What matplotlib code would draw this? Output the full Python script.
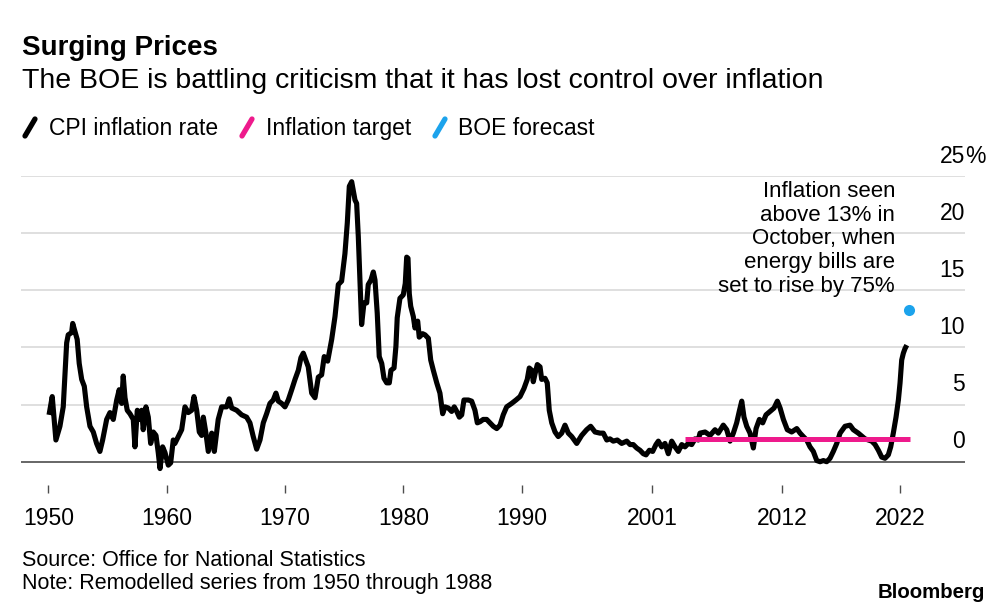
import matplotlib.pyplot as plt
from matplotlib.lines import Line2D

plt.rcParams['font.family'] = ['Liberation Sans', 'DejaVu Sans']

# --- Data ---
# CPI inflation rate (%), remodelled series before 1988
cpi_years = [
    1950.05, 1950.32, 1950.63, 1950.97, 1951.25, 1951.54, 1951.67, 1951.96, 1952.05, 1952.24,
    1952.43, 1952.6, 1952.81, 1953.03, 1953.23, 1953.51, 1953.79, 1954.07, 1954.35, 1954.58,
    1954.92, 1955.2, 1955.48, 1955.77, 1955.98, 1956.19, 1956.32, 1956.47, 1956.66, 1956.89,
    1957.17, 1957.31, 1957.51, 1957.73, 1957.88, 1958.01, 1958.24, 1958.44, 1958.64, 1958.86,
    1959.09, 1959.28, 1959.43, 1959.65, 1959.85, 1960.13, 1960.33, 1960.55, 1960.69, 1960.97,
    1961.26, 1961.54, 1961.82, 1962.1, 1962.3, 1962.53, 1962.75, 1962.95, 1963.09, 1963.31,
    1963.51, 1963.8, 1964.02, 1964.35, 1964.64, 1965.06, 1965.28, 1965.49, 1965.91, 1966.33,
    1966.75, 1967.03, 1967.31, 1967.6, 1967.88, 1968.16, 1968.44, 1968.72, 1969.0, 1969.23,
    1969.43, 1969.71, 1969.99, 1970.27, 1970.56, 1970.84, 1971.12, 1971.34, 1971.54, 1971.96,
    1972.25, 1972.53, 1972.81, 1973.09, 1973.31, 1973.6, 1973.94, 1974.22, 1974.5, 1974.78,
    1975.06, 1975.26, 1975.43, 1975.63, 1975.91, 1976.05, 1976.19, 1976.33, 1976.47, 1976.67,
    1976.9, 1977.03, 1977.26, 1977.46, 1977.6, 1977.79, 1977.96, 1978.17, 1978.36, 1978.59,
    1978.81, 1978.95, 1979.21, 1979.37, 1979.48, 1979.71, 1979.99, 1980.16, 1980.28, 1980.39,
    1980.5, 1980.62, 1980.84, 1980.98, 1981.21, 1981.34, 1981.63, 1981.83, 1982.11, 1982.31,
    1982.53, 1982.82, 1983.09, 1983.32, 1983.52, 1983.8, 1984.08, 1984.3, 1984.51, 1984.73,
    1984.93, 1985.12, 1985.49, 1985.77, 1986.05, 1986.25, 1986.48, 1986.75, 1987.04, 1987.32,
    1987.6, 1987.89, 1988.17, 1988.44, 1988.73, 1989.15, 1989.52, 1989.86, 1990.19, 1990.47,
    1990.64, 1990.85, 1990.98, 1991.13, 1991.32, 1991.55, 1991.69, 1991.97, 1992.16, 1992.33,
    1992.54, 1992.82, 1993.09, 1993.38, 1993.66, 1993.94, 1994.23, 1994.65, 1995.07, 1995.49,
    1995.83, 1996.2, 1996.62, 1996.9, 1997.19, 1997.46, 1997.74, 1998.08, 1998.45, 1998.88,
    1999.16, 1999.43, 1999.72, 2000.0, 2000.28, 2000.51, 2000.79, 2001.07, 2001.35, 2001.55,
    2001.83, 2002.11, 2002.39, 2002.68, 2002.96, 2003.24, 2003.53, 2003.8, 2004.08, 2004.37,
    2004.65, 2004.93, 2005.07, 2005.5, 2005.92, 2006.34, 2006.62, 2007.04, 2007.33, 2007.61,
    2007.89, 2008.17, 2008.39, 2008.6, 2008.79, 2009.02, 2009.3, 2009.58, 2009.81, 2010.09,
    2010.37, 2010.65, 2010.99, 2011.33, 2011.61, 2011.84, 2012.12, 2012.45, 2012.82, 2013.25,
    2013.53, 2013.8, 2014.09, 2014.37, 2014.65, 2014.94, 2015.22, 2015.5, 2015.78, 2016.06,
    2016.34, 2016.63, 2016.91, 2017.33, 2017.75, 2018.03, 2018.45, 2019.02, 2019.3, 2019.59,
    2019.87, 2020.15, 2020.43, 2020.71, 2020.99, 2021.19, 2021.41, 2021.64, 2021.84, 2021.98,
    2022.12, 2022.26, 2022.4, 2022.55,
]
cpi_rates = [
    4.1, 5.7, 1.9, 3.1, 4.8, 10.4, 11.1, 11.3, 12.1, 11.4,
    10.7, 8.6, 7.2, 6.6, 4.8, 3.1, 2.6, 1.6, 0.9, 1.9,
    3.7, 4.3, 3.7, 5.4, 6.3, 5.1, 7.5, 5.6, 4.5, 4.2,
    3.7, 1.3, 4.5, 3.7, 4.5, 2.8, 4.8, 3.9, 1.6, 2.6,
    2.3, 0.8, -0.6, 1.3, 0.8, -0.3, -0.1, 1.9, 1.6, 2.2,
    2.8, 4.8, 4.3, 4.5, 5.7, 4.5, 2.6, 2.3, 3.9, 2.5,
    0.9, 2.5, 0.9, 3.7, 4.8, 4.8, 5.5, 4.7, 4.5, 4.1,
    3.9, 3.4, 2.2, 1.1, 1.9, 3.4, 4.2, 5.1, 5.4, 6.0,
    5.3, 5.1, 4.8, 5.4, 6.3, 7.2, 8.0, 9.1, 9.5, 8.3,
    6.0, 5.6, 7.4, 7.6, 9.2, 8.8, 10.7, 12.7, 15.5, 15.8,
    18.2, 20.9, 24.1, 24.5, 22.9, 22.6, 19.7, 15.9, 12.0, 13.9,
    13.9, 15.5, 15.9, 16.6, 15.9, 13.0, 9.2, 8.6, 7.3, 6.9,
    6.9, 8.0, 8.2, 10.1, 12.6, 14.3, 14.6, 15.6, 17.9, 17.8,
    14.7, 13.6, 12.7, 11.7, 12.3, 10.9, 11.2, 11.1, 10.8, 8.9,
    8.0, 6.9, 6.0, 4.2, 4.8, 4.7, 4.4, 4.8, 4.4, 3.9,
    4.1, 5.4, 5.4, 5.3, 4.5, 3.4, 3.5, 3.7, 3.7, 3.4,
    3.1, 2.9, 3.2, 4.1, 4.8, 5.1, 5.4, 5.7, 6.4, 7.2,
    8.2, 8.0, 7.0, 7.7, 8.5, 8.3, 7.2, 7.3, 6.9, 4.5,
    3.4, 2.6, 2.2, 2.5, 3.2, 2.5, 2.2, 1.6, 2.3, 2.8,
    3.1, 2.6, 2.5, 2.5, 1.9, 2.0, 1.8, 1.9, 1.6, 1.8,
    1.5, 1.5, 1.2, 1.0, 0.7, 0.6, 1.0, 0.9, 1.5, 1.8,
    1.3, 1.6, 0.7, 1.8, 1.3, 0.9, 1.5, 1.3, 1.6, 1.5,
    2.0, 1.9, 2.5, 2.6, 2.3, 2.8, 2.5, 3.2, 2.8, 1.8,
    2.5, 3.4, 4.4, 5.3, 3.9, 3.1, 2.5, 1.2, 2.9, 3.7,
    3.4, 4.1, 4.4, 4.7, 5.3, 4.7, 3.7, 2.8, 2.6, 2.9,
    2.5, 2.2, 1.9, 1.3, 0.9, 0.1, 0.0, 0.1, 0.0, 0.3,
    0.9, 1.6, 2.5, 3.1, 3.2, 2.8, 2.5, 2.0, 1.9, 1.8,
    1.5, 1.0, 0.4, 0.3, 0.6, 1.3, 2.5, 3.9, 5.4, 6.9,
    8.9, 9.5, 9.9, 10.2,
]

# 2% inflation target (since Dec 2003)
target_years = [2003.8, 2022.82]
target_rates = [2.0, 2.0]

# BOE forecast for October 2022
forecast_years = [2022.76]
forecast_rates = [13.3]

y_ticks = [0, 5, 10, 15, 20, 25]
x_tick_years = [1950, 1960, 1970, 1980, 1990, 2001, 2012, 2022]

BLACK = '#000000'
PINK = '#ee1a8c'
CYAN = '#1ca3ec'
GRID = '#d9d9d9'
BASE = '#4d4d4d'

W, H = 993, 605


def fig_xy(x, y):
    # pixel position (from top-left) -> figure fraction
    return x / W, 1 - y / H


def plot_inflation():
    fig = plt.figure(figsize=(W / 100, H / 100), dpi=100)
    ax = fig.add_axes([21 / W, 1 - 476 / H, 944 / W, 300 / H])
    ax.set_xlim(1947.68, 2027.47)
    ax.set_ylim(-1.25, 25)

    # gridlines and zero baseline
    for v in y_ticks[1:]:
        ax.axhline(v, color=GRID, lw=1.2, zorder=0)
    ax.axhline(0, color=BASE, lw=1.2, zorder=1)

    # series
    ax.plot(cpi_years, cpi_rates, color=BLACK, lw=3.7,
            solid_joinstyle='round', solid_capstyle='butt', zorder=3)
    ax.plot(target_years, target_rates, color=PINK, lw=3.6,
            solid_capstyle='butt', zorder=4)
    ax.plot(forecast_years, forecast_rates, 'o', color=CYAN, ms=8,
            mec='none', zorder=5)

    # axes cosmetics
    for s in ax.spines.values():
        s.set_visible(False)
    ax.spines['bottom'].set_position(('outward', 6.5))
    ax.set_yticks([])
    ax.set_xticks(x_tick_years)
    ax.set_xticklabels([str(y) for y in x_tick_years])
    ax.tick_params(axis='x', length=6, width=1.0, color=BASE, pad=10,
                   labelsize=16.5, labelcolor=BLACK)

    # y labels sit above their gridlines, right side
    for v in y_ticks:
        ax.annotate(str(v), xy=(1, v), xycoords=('axes fraction', 'data'),
                    xytext=(0, 6), textcoords='offset points',
                    ha='right', va='bottom', fontsize=16.5)
    ax.annotate('%', xy=(1, y_ticks[-1]), xycoords=('axes fraction', 'data'),
                xytext=(0, 6), textcoords='offset points',
                ha='left', va='bottom', fontsize=16.5)

    # annotation for the forecast
    ax.text(2021.56, 19.5,
            'Inflation seen\nabove 13% in\nOctober, when\nenergy bills are\nset to rise by 75%',
            ha='right', va='center', multialignment='right',
            fontsize=16, linespacing=1.17)

    # title block
    fig.text(*fig_xy(22, 48), 'Surging Prices', fontsize=20, fontweight='bold',
             va='center', ha='left')
    fig.text(*fig_xy(22, 81),
             'The BOE is battling criticism that it has lost control over inflation',
             fontsize=20.5, va='center', ha='left')

    # legend with slanted strokes
    legend_items = [(BLACK, 'CPI inflation rate', 24, 49),
                    (PINK, 'Inflation target', 241, 266),
                    (CYAN, 'BOE forecast', 434, 458)]
    for color, label, sx, tx in legend_items:
        x0, y0 = fig_xy(sx + 1, 136)
        x1, y1 = fig_xy(sx + 11, 119)
        fig.add_artist(Line2D([x0, x1], [y0, y1], color=color, lw=3.8,
                              solid_capstyle='round', transform=fig.transFigure))
        fig.text(*fig_xy(tx, 128), label, fontsize=16.5, va='center', ha='left')

    # footer
    fig.text(*fig_xy(22, 561), 'Source: Office for National Statistics',
             fontsize=15.5, va='center', ha='left')
    fig.text(*fig_xy(22, 584), 'Note: Remodelled series from 1950 through 1988',
             fontsize=15.5, va='center', ha='left')
    fig.text(*fig_xy(985, 593), 'Bloomberg', fontsize=14.7, fontweight='bold',
             va='center', ha='right')

    fig.savefig('out.png', dpi=100)


if __name__ == "__main__":
    plot_inflation()
